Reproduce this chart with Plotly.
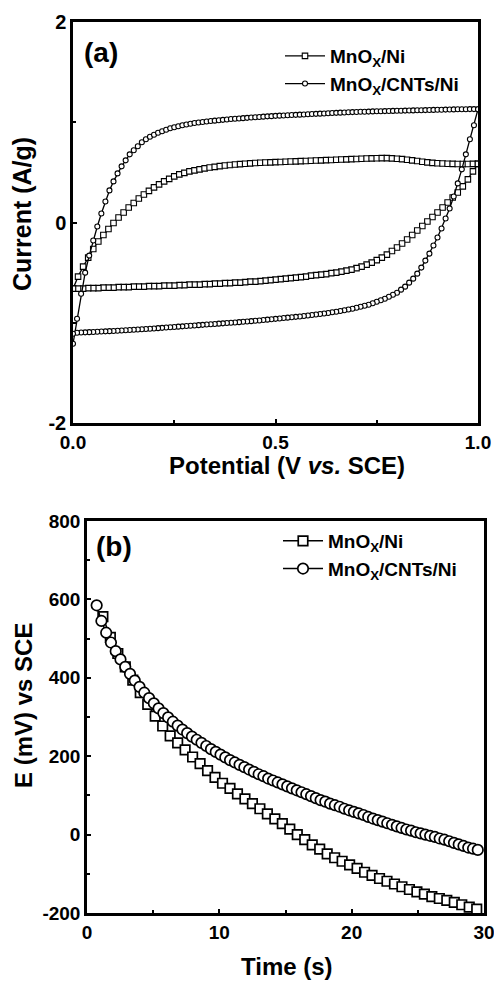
import plotly.graph_objects as go

# ---------------- DATA ----------------
# Panel (a): cyclic voltammograms, Current (A/g) vs Potential (V vs. SCE)
CV_START_FWD = 0.0
CV_START_REV = 1.0
CV_STEP_NI = 0.0125
CV_STEP_CNT = 0.01

ni_fwd = [-0.66, -0.54, -0.44, -0.35, -0.265, -0.19, -0.125, -0.065, -0.005, 0.05,
          0.10, 0.15, 0.195, 0.24, 0.28, 0.315, 0.35, 0.38, 0.41, 0.435,
          0.46, 0.48, 0.495, 0.51, 0.52, 0.53, 0.54, 0.548, 0.555, 0.562,
          0.568, 0.573, 0.578, 0.582, 0.586, 0.59, 0.593, 0.596, 0.598, 0.60,
          0.602, 0.604, 0.606, 0.608, 0.61, 0.612, 0.614, 0.616, 0.618, 0.62,
          0.622, 0.624, 0.626, 0.628, 0.63, 0.632, 0.634, 0.636, 0.638, 0.64,
          0.641, 0.642, 0.642, 0.64, 0.636, 0.632, 0.626, 0.62, 0.613, 0.606,
          0.60, 0.595, 0.591, 0.588, 0.586, 0.585, 0.584, 0.584, 0.584, 0.585,
          0.585]
ni_rev = [0.585, 0.51, 0.43, 0.36, 0.30, 0.25, 0.20, 0.15, 0.10, 0.055,
          0.01, -0.035, -0.08, -0.125, -0.17, -0.21, -0.25, -0.285, -0.32, -0.35,
          -0.375, -0.40, -0.42, -0.44, -0.455, -0.47, -0.48, -0.49, -0.50, -0.505,
          -0.515, -0.52, -0.525, -0.53, -0.54, -0.545, -0.55, -0.555, -0.56, -0.565,
          -0.57, -0.575, -0.58, -0.585, -0.59, -0.59, -0.595, -0.60, -0.60, -0.605,
          -0.605, -0.61, -0.61, -0.615, -0.615, -0.62, -0.62, -0.62, -0.625, -0.625,
          -0.63, -0.63, -0.63, -0.635, -0.635, -0.635, -0.64, -0.64, -0.64, -0.645,
          -0.645, -0.645, -0.65, -0.65, -0.65, -0.655, -0.655, -0.655, -0.66, -0.66,
          -0.66]
cnt_fwd = [-1.21, -0.96, -0.71, -0.50, -0.33, -0.18, -0.04, 0.09, 0.21, 0.32,
           0.41, 0.49, 0.56, 0.62, 0.68, 0.72, 0.76, 0.80, 0.83, 0.855,
           0.875, 0.895, 0.91, 0.925, 0.94, 0.95, 0.96, 0.97, 0.978, 0.985,
           0.992, 0.998, 1.003, 1.008, 1.012, 1.016, 1.02, 1.024, 1.028, 1.032,
           1.035, 1.038, 1.041, 1.044, 1.047, 1.05, 1.053, 1.056, 1.059, 1.061,
           1.064, 1.066, 1.068, 1.07, 1.072, 1.074, 1.076, 1.078, 1.08, 1.082,
           1.084, 1.086, 1.088, 1.09, 1.092, 1.094, 1.096, 1.098, 1.10, 1.101,
           1.102, 1.104, 1.105, 1.106, 1.108, 1.109, 1.11, 1.111, 1.112, 1.113,
           1.114, 1.115, 1.116, 1.117, 1.118, 1.119, 1.12, 1.121, 1.122, 1.123,
           1.124, 1.125, 1.126, 1.127, 1.128, 1.129, 1.13, 1.13, 1.131, 1.131,
           1.13]
cnt_rev = [1.13, 0.97, 0.83, 0.68, 0.53, 0.39, 0.26, 0.14, 0.04, -0.06,
           -0.15, -0.23, -0.31, -0.38, -0.45, -0.51, -0.56, -0.60, -0.64, -0.67,
           -0.70, -0.72, -0.74, -0.76, -0.775, -0.79, -0.805, -0.82, -0.83, -0.84,
           -0.85, -0.86, -0.868, -0.876, -0.883, -0.89, -0.896, -0.902, -0.908, -0.913,
           -0.918, -0.923, -0.928, -0.933, -0.937, -0.941, -0.945, -0.949, -0.953, -0.957,
           -0.961, -0.965, -0.969, -0.973, -0.977, -0.98, -0.984, -0.987, -0.99, -0.994,
           -0.997, -1.0, -1.003, -1.006, -1.009, -1.012, -1.015, -1.018, -1.021, -1.024,
           -1.027, -1.03, -1.033, -1.036, -1.039, -1.042, -1.045, -1.048, -1.051, -1.054,
           -1.057, -1.06, -1.062, -1.065, -1.067, -1.07, -1.072, -1.075, -1.077, -1.08,
           -1.082, -1.084, -1.086, -1.088, -1.09, -1.092, -1.094, -1.096, -1.098, -1.10,
           -1.11]

# Panel (b): discharge curves, E (mV) vs SCE vs Time (s)
T0_NI = 1.2
DT_NI = 0.565
T0_CNT = 0.73
DT_CNT = 0.36
e_ni = [556, 503, 462, 428, 394, 362, 332, 302, 277, 252,
        234, 216, 198, 181, 163, 146, 131, 118, 104, 91,
        79, 66, 53, 40, 28, 14, 0, -13, -26, -37,
        -49, -59, -68, -77, -86, -96, -104, -112, -119, -126,
        -133, -140, -146, -152, -158, -163, -168, -173, -179, -185,
        -190]
e_cnt = [585, 545, 515, 490, 468, 447, 428, 410, 393, 377,
         362, 348, 335, 322, 310, 299, 288, 278, 268, 259,
         250, 242, 234, 226, 218, 211, 204, 197, 190, 184,
         178, 172, 166, 160, 154, 149, 143, 138, 133, 128,
         123, 118, 113, 108, 103, 98, 93, 88, 84, 79,
         75, 71, 66, 62, 58, 54, 50, 45, 41, 37,
         33, 29, 25, 21, 17, 13, 10, 6, 3, 0,
         -3, -6, -10, -13, -17, -21, -25, -29, -33, -36,
         -39]

# Tick labels
a_xticks = [0.0, 0.5, 1.0]
a_xlabels = ["0.0", "0.5", "1.0"]
a_yticks = [-2, 0, 2]
a_ylabels = ["-2", "0", "2"]
b_xticks = [0, 10, 20, 30]
b_xlabels = ["0", "10", "20", "30"]
b_yticks = [-200, 0, 200, 400, 600, 800]
b_ylabels = ["-200", "0", "200", "400", "600", "800"]

NAME_NI = "MnO<sub>X</sub>/Ni"
NAME_CNT = "MnO<sub>X</sub>/CNTs/Ni"

# ---------------- FIGURE ----------------
W, H = 494, 981
FONT = "Liberation Sans, Arial, Helvetica, sans-serif"

def px_x(p):
    return p / W

def px_y(p):
    return 1 - p / H

fig = go.Figure()

def add_cv(y, x0, dx, name, symbol, size, show, group):
    fig.add_trace(go.Scatter(
        y=y, x0=x0, dx=dx, mode="lines+markers", name=name,
        legendgroup=group, showlegend=show, legend="legend",
        line=dict(color="black", width=1.3),
        marker=dict(symbol=symbol, size=size, color="white",
                    line=dict(color="black", width=1.1)),
        xaxis="x", yaxis="y"))

add_cv(ni_fwd, CV_START_FWD, CV_STEP_NI, NAME_NI, "square", 5.5, True, "ni")
add_cv(ni_rev, CV_START_REV, -CV_STEP_NI, NAME_NI, "square", 5.5, False, "ni")
add_cv(cnt_fwd, CV_START_FWD, CV_STEP_CNT, NAME_CNT, "circle", 5, True, "cnt")
add_cv(cnt_rev, CV_START_REV, -CV_STEP_CNT, NAME_CNT, "circle", 5, False, "cnt")

fig.add_trace(go.Scatter(
    y=e_ni, x0=T0_NI, dx=DT_NI, mode="lines+markers", name=NAME_NI,
    legend="legend2",
    line=dict(color="black", width=1.5),
    marker=dict(symbol="square", size=9.5, color="white",
                line=dict(color="black", width=1.7)),
    xaxis="x2", yaxis="y2"))
fig.add_trace(go.Scatter(
    y=e_cnt, x0=T0_CNT, dx=DT_CNT, mode="lines+markers", name=NAME_CNT,
    legend="legend2",
    line=dict(color="black", width=1.5),
    marker=dict(symbol="circle", size=10.5, color="white",
                line=dict(color="black", width=1.7)),
    xaxis="x2", yaxis="y2"))

def axis(domain, rng, tickvals, ticktext, minor_dtick, anchor, tsize):
    return dict(
        domain=domain, range=rng, tickmode="array", tickvals=tickvals,
        ticktext=ticktext, anchor=anchor, automargin=False,
        ticklabeloverflow="allow",
        showline=True, linecolor="black", linewidth=2.5, mirror=True,
        ticks="inside", ticklen=4, tickwidth=2, tickcolor="black",
        minor=dict(ticks="inside", ticklen=3, tickwidth=2, tickcolor="black",
                   tickmode="linear", dtick=minor_dtick, tick0=rng[0]),
        showgrid=False, zeroline=False,
        tickfont=dict(family=FONT, size=tsize, color="black", weight="bold"),
    )

# Panel (a) plot area: x 73..478, y 22..423 ; Panel (b): x 87..484, y 521..913
xa = axis([px_x(73), px_x(478)], [0, 1], a_xticks, a_xlabels, 0.25, "y", 19)
ya = axis([px_y(423), px_y(22)], [-2, 2], a_yticks, a_ylabels, 1, "x", 20)
xb = axis([px_x(87), px_x(484)], [0, 30], b_xticks, b_xlabels, 5, "y2", 19)
yb = axis([px_y(913), px_y(521)], [-200, 800], b_yticks, b_ylabels, 100, "x2", 19)

annotations = [
    dict(text="Current (A/g)", x=px_x(22), y=px_y(214), textangle=-90,
         font=dict(size=25)),
    dict(text="Potential (V <i>vs.</i> SCE)", x=px_x(287), y=px_y(466),
         font=dict(size=24)),
    dict(text="E (mV) vs SCE", x=px_x(23), y=px_y(706), textangle=-90,
         font=dict(size=24)),
    dict(text="Time (s)", x=px_x(287), y=px_y(966), font=dict(size=24)),
    dict(text="(a)", x=px_x(101), y=px_y(52), font=dict(size=28)),
    dict(text="(b)", x=px_x(114), y=px_y(546), font=dict(size=28)),
]
for a in annotations:
    a.update(xref="paper", yref="paper", showarrow=False,
             xanchor="center", yanchor="middle")
    a["font"].update(family=FONT, color="black", weight="bold")

legend_common = dict(
    xanchor="left", yanchor="top", bgcolor="rgba(0,0,0,0)", borderwidth=0,
    font=dict(family=FONT, size=19, color="black", weight="bold"),
    itemwidth=40, tracegroupgap=0, traceorder="normal",
)

fig.update_layout(
    width=W, height=H,
    margin=dict(l=0, r=0, t=0, b=0, pad=0, autoexpand=False),
    paper_bgcolor="white", plot_bgcolor="white",
    font=dict(family=FONT, color="black", weight="bold"),
    xaxis=xa, yaxis=ya, xaxis2=xb, yaxis2=yb,
    annotations=annotations,
    legend=dict(x=px_x(280), y=px_y(37), **legend_common),
    legend2=dict(x=px_x(278), y=px_y(522), **legend_common),
)

# remove the default page margin so the figure sits at the window's corner
PAGE_FIX = ("document.body.style.margin='0px';"
            "document.body.style.overflow='hidden';"
            "document.documentElement.style.overflow='hidden';")
fig.write_html("out.html", post_script=PAGE_FIX,
               config={"displayModeBar": False})
